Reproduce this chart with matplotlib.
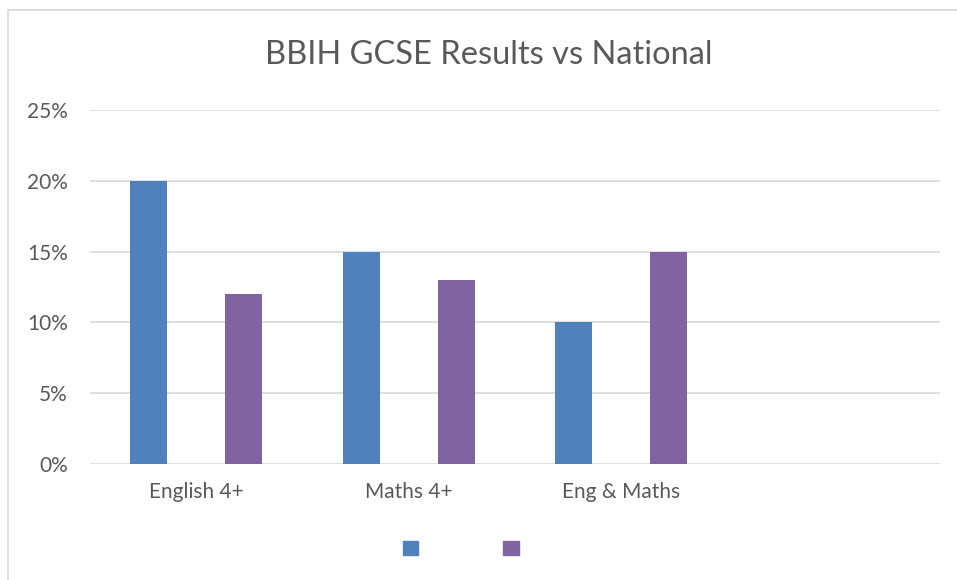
import matplotlib
matplotlib.use("Agg")
import matplotlib.pyplot as plt
from matplotlib.patches import Patch, Rectangle
from matplotlib.ticker import PercentFormatter
import numpy as np

categories = ["English 4+", "Maths 4+", "Eng & Maths"]
bbih = [20, 15, 10]
national = [12, 13, 15]
series_names = ["BBIH", "National"]
yticks = [0, 5, 10, 15, 20, 25]

plt.rcParams['font.family'] = ['Lato', 'DejaVu Sans']

fig = plt.figure(figsize=(9.57, 5.8), dpi=100)
ax = fig.add_axes([90/957, 1-464/580, (940-90)/957, (464-110)/580])

x = np.arange(len(categories))
w = 0.174
off = 0.2235
c1, c2 = "#4F81BD", "#8064A2"
ax.bar(x - off, bbih, w, color=c1, zorder=3)
ax.bar(x + off, national, w, color=c2, zorder=3)

ax.set_xlim(-0.5, 3.5)
ax.set_ylim(0, 25)
ax.set_yticks(yticks)
ax.yaxis.set_major_formatter(PercentFormatter(decimals=0))
ax.set_xticks(x)
ax.set_xticklabels(categories)
ax.grid(axis='y', color='#D9D9D9', linewidth=1.2, zorder=0)
for s in ax.spines.values():
    s.set_visible(False)
ax.tick_params(axis='both', length=0, labelsize=15, colors='#595959')
ax.tick_params(axis='y', pad=16)
ax.tick_params(axis='x', pad=13)

fig.text(489/957, 1-55/580, "BBIH GCSE Results vs National", ha='center', va='center',
         fontsize=23.5, color='#595959')

handles = [Patch(color=c1), Patch(color=c2)]
fig.legend(handles, ["", ""], loc='center', bbox_to_anchor=(463/957, 1-549/580),
           ncol=2, frameon=False, handlelength=1.0, handleheight=1.0,
           columnspacing=5.3, handletextpad=0.3, fontsize=11)

fig.patches.append(Rectangle((8/957, -0.1), 1.1, 1-10/580+0.1, transform=fig.transFigure,
                             fill=False, edgecolor='#D9D9D9', linewidth=1.2))

fig.savefig("out.png", dpi=100)
